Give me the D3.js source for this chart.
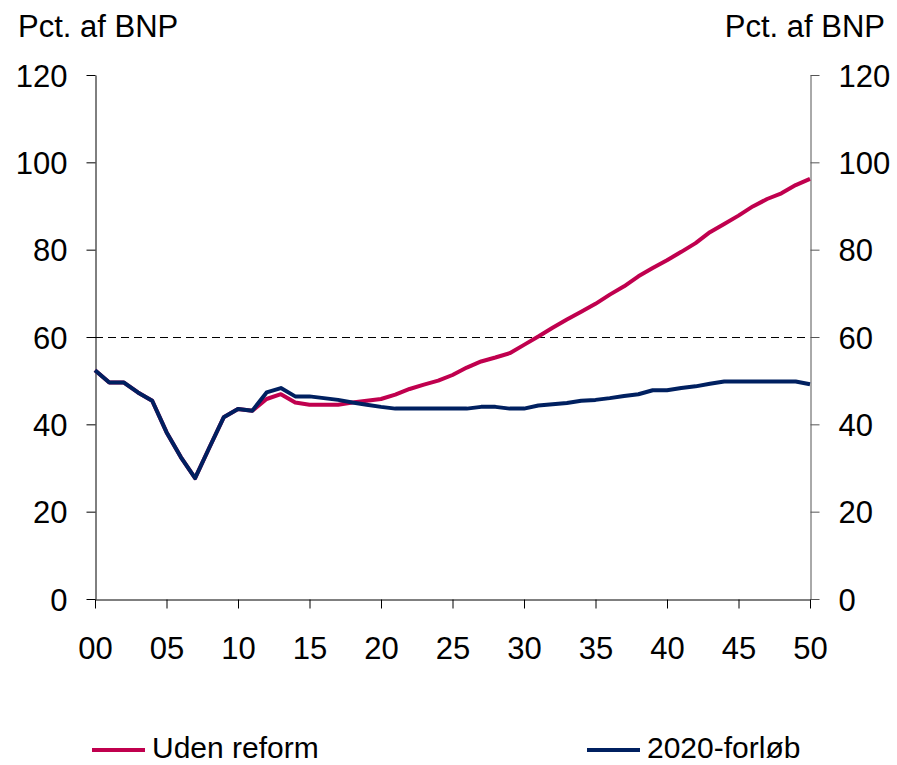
<!DOCTYPE html>
<html><head><meta charset="utf-8">
<script src="https://cdn.jsdelivr.net/npm/d3@7"></script>
<style>body{margin:0;background:#fff}svg{display:block}text{font-family:"Liberation Sans",Arial,sans-serif;fill:#000}</style>
</head><body><svg id="c" width="897" height="765"></svg>
<script>
const years = d3.range(2000, 2051);
const xTickLabels = ["00","05","10","15","20","25","30","35","40","45","50"];
const yTicks = [0,20,40,60,80,100,120];
const udenReform = [52.4,49.6,49.6,47.3,45.4,38.2,32.5,27.7,34.7,41.6,43.5,43.1,
 45.8,46.9,45.0,44.5,44.5,44.5,45.0,45.4,45.8,46.8,48.1,49.1,50.0,51.3,53.0,54.4,55.3,56.3,
 58.2,60.1,62.1,64.0,65.8,67.6,69.7,71.6,73.9,75.8,77.6,79.5,81.5,84.0,85.9,87.8,89.9,91.6,92.9,94.8,96.2];
const forloeb2020 = [52.4,49.6,49.6,47.3,45.4,38.2,32.5,27.7,34.7,41.6,43.5,43.1,
 47.3,48.3,46.4,46.4,46.0,45.6,45.0,44.5,44.0,43.6,43.6,43.6,43.6,43.6,43.6,44.0,44.0,43.6,
 43.6,44.3,44.6,44.9,45.4,45.6,46.0,46.5,46.9,47.8,47.8,48.3,48.7,49.3,49.8,49.8,49.8,49.8,49.8,49.8,49.2];
const refLine = 60;
const seriesNames = ["Uden reform","2020-forløb"];
const colors = ["#C0004E","#002060"];

const svg = d3.select("#c");
const L=95, R=810, T=75, B=599;
const x = d3.scaleLinear().domain([2000,2050]).range([L,R]);
const y = d3.scaleLinear().domain([0,120]).range([B,T]);
const fs = 31;

svg.append("line").attr("x1",L).attr("x2",R).attr("y1",Math.round(y(refLine))+0.5).attr("y2",Math.round(y(refLine))+0.5)
  .attr("stroke","#000").attr("stroke-width",1).attr("stroke-dasharray","8,5");

const gL = svg.append("g").attr("transform",`translate(${L+0.5},0)`)
  .call(d3.axisLeft(y).tickValues(yTicks).tickSize(9).tickSizeOuter(0).tickPadding(19));
const gR = svg.append("g").attr("transform",`translate(${R+0.5},0)`)
  .call(d3.axisRight(y).tickValues(yTicks).tickSize(9).tickSizeOuter(0).tickPadding(19));
const gB = svg.append("g").attr("transform",`translate(0,${B+0.5})`)
  .call(d3.axisBottom(x).tickValues(d3.range(2000,2051,5)).tickSize(9).tickSizeOuter(0).tickPadding(28)
  .tickFormat((d,i)=>xTickLabels[i]));
[gL,gR,gB].forEach(g=>{
  g.selectAll("path,line").attr("stroke","#000").attr("stroke-width",1);
  g.selectAll("text").style("font-size",fs+"px").attr("fill","#000");
  g.attr("font-family",null);
});
gR.selectAll("path,line").attr("stroke","#555");
gL.selectAll("text").attr("dy","0.36em");
gR.selectAll("text").attr("dy","0.36em");

const line = d3.line().x((d,i)=>x(years[i])).y(d=>y(d));
[udenReform, forloeb2020].forEach((s,k)=>{
  svg.append("path").datum(s).attr("d",line).attr("fill","none")
    .attr("stroke",colors[k]).attr("stroke-width",4).attr("stroke-linejoin","round");
});

svg.append("text").attr("x",18).attr("y",37).style("font-size",fs+"px").text("Pct. af BNP");
svg.append("text").attr("x",885).attr("y",37).attr("text-anchor","end").style("font-size",fs+"px").text("Pct. af BNP");

const legX = [92, 587];
seriesNames.forEach((n,k)=>{
  svg.append("line").attr("x1",legX[k]).attr("x2",legX[k]+53).attr("y1",750).attr("y2",750)
    .attr("stroke",colors[k]).attr("stroke-width",4);
  svg.append("text").attr("x",legX[k]+60).attr("y",758).style("font-size","30px").text(n);
});
</script></body></html>
